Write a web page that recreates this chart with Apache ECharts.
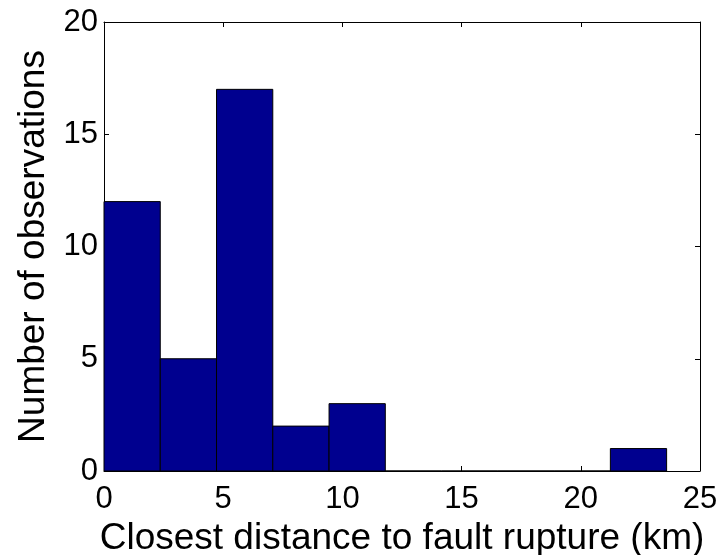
<!DOCTYPE html>
<html>
<head>
<meta charset="utf-8">
<script src="https://cdn.jsdelivr.net/npm/echarts@6/dist/echarts.min.js"></script>
<style>html,body{margin:0;padding:0;background:#fff}#c{width:721px;height:555px}</style>
</head>
<body>
<div id="c"></div>
<script>
// Histogram bin edges (km) and counts
var binLeft  = [0, 2.36, 4.72, 7.08, 9.44, 11.8, 14.16, 16.52, 18.88, 21.24];
var binRight = [2.36, 4.72, 7.08, 9.44, 11.8, 14.16, 16.52, 18.88, 21.24, 23.6];
var counts   = [12, 5, 17, 2, 3, 0, 0, 0, 0, 1];
var xTicks = [0, 5, 10, 15, 20, 25];
var yTicks = [0, 5, 10, 15, 20];
var xTitle = 'Closest distance to fault rupture (km)';
var yTitle = 'Number of observations';

var data = binLeft.map(function (l, i) { return [l, binRight[i], counts[i]]; });
var FONT = '"Liberation Sans", Arial, Helvetica, sans-serif';

var chart = echarts.init(document.getElementById('c'), null, {renderer: 'canvas'});
var axisCommon = {
  axisLine: {show: true, onZero: false, lineStyle: {color: '#000', width: 1}},
  axisTick: {show: true, inside: true, length: 5, lineStyle: {color: '#000', width: 1}},
  splitLine: {show: false}
};
chart.setOption({
  animation: false,
  backgroundColor: '#fff',
  grid: {left: 104, right: 21, top: 22, bottom: 84, containLabel: false, outerBoundsMode: 'none'},
  xAxis: [
    Object.assign({
      type: 'value', min: xTicks[0], max: xTicks[xTicks.length - 1], interval: 5,
      position: 'bottom',
      name: xTitle, nameLocation: 'middle', nameGap: 42,
      nameTextStyle: {fontFamily: FONT, fontSize: 37, color: '#000'},
      axisLabel: {fontFamily: FONT, fontSize: 31, color: '#000', margin: 13, showMinLabel: true, showMaxLabel: true}
    }, axisCommon),
    Object.assign({
      type: 'value', min: xTicks[0], max: xTicks[xTicks.length - 1], interval: 5,
      position: 'top', axisLabel: {show: false}
    }, axisCommon)
  ],
  yAxis: [
    Object.assign({
      type: 'value', min: yTicks[0], max: yTicks[yTicks.length - 1], interval: 5,
      position: 'left',
      name: yTitle, nameLocation: 'middle', nameGap: 40, nameRotate: 90,
      nameTextStyle: {fontFamily: FONT, fontSize: 37, color: '#000'},
      axisLabel: {fontFamily: FONT, fontSize: 31, color: '#000', margin: 6, showMinLabel: true, showMaxLabel: true}
    }, axisCommon),
    Object.assign({
      type: 'value', min: yTicks[0], max: yTicks[yTicks.length - 1], interval: 5,
      position: 'right', axisLabel: {show: false}
    }, axisCommon)
  ],
  series: [{
    type: 'custom',
    xAxisIndex: 0, yAxisIndex: 0,
    data: data,
    encode: {x: [0, 1], y: 2},
    renderItem: function (params, api) {
      var p0 = api.coord([api.value(0), api.value(2)]);
      var p1 = api.coord([api.value(1), 0]);
      return {
        type: 'rect',
        shape: {x: p0[0], y: p0[1], width: p1[0] - p0[0], height: p1[1] - p0[1]},
        style: {fill: '#00008F', stroke: '#000', lineWidth: 1}
      };
    }
  }]
});
</script>
</body>
</html>
